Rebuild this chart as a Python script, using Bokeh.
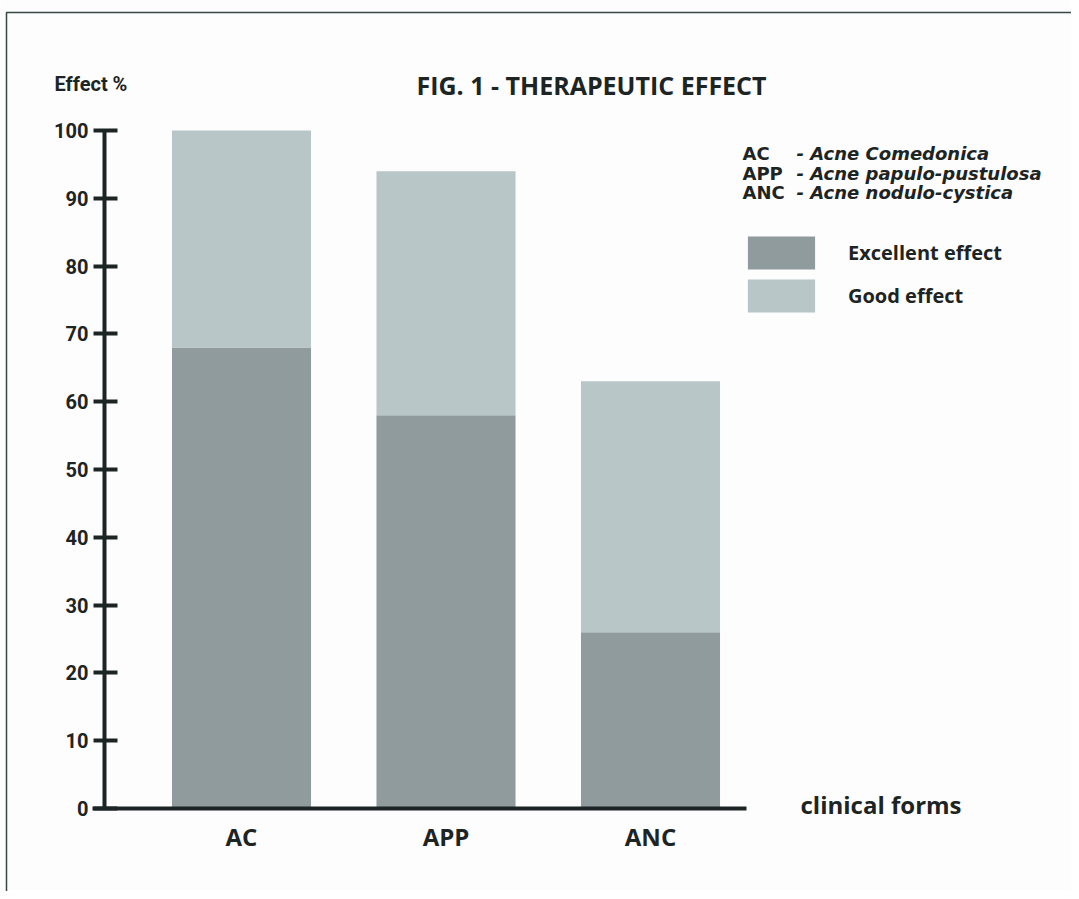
from bokeh.plotting import figure
from bokeh.models import Range1d, FixedTicker, Label, PolyAnnotation, ColumnDataSource
from bokeh.embed import file_html
from bokeh.resources import INLINE

# ---- data ----
categories = ["AC", "APP", "ANC"]
excellent = [68, 58, 26]
good = [32, 36, 37]
y_ticks = list(range(0, 101, 10))
series_names = ["Excellent effect", "Good effect"]
abbrev = ["AC", "APP", "ANC"]
full_names = ["Acne Comedonica", "Acne papulo-pustulosa", "Acne nodulo-cystica"]
title_text = "FIG. 1 - THERAPEUTIC EFFECT"
y_title = "Effect %"
x_title = "clinical forms"

# ---- layout geometry (canvas pixels); the frame covers the whole canvas ----
W, H = 1071, 891
PX_PER_CAT = 204.5
FIRST_CENTER = 241          # px of first category centre
Y0_PX, Y100_PX = 808, 130   # px of value 0 and value 100
PX_PER_Y = (Y0_PX - Y100_PX) / 100.0
x_start = -FIRST_CENTER / PX_PER_CAT
x_end = x_start + W / PX_PER_CAT
y_start = -(H - Y0_PX) / PX_PER_Y
y_end = Y0_PX / PX_PER_Y


def dx(fx):
    return x_start + fx / PX_PER_CAT


def dy(fy):
    return (Y0_PX - fy) / PX_PER_Y


INK = "#1d2424"
DARK = "#8f9b9c"
LIGHT = "#b9c6c7"
BOLD = "Open Sans"
WIDE = "DejaVu Sans"
NARROW = "Roboto"

p = figure(width=W, height=H, x_range=Range1d(x_start, x_end), y_range=Range1d(y_start, y_end),
           output_backend="svg", toolbar_location=None,
           min_border_left=0, min_border_right=0, min_border_top=0, min_border_bottom=0)
p.background_fill_color = "#fdfdfd"
p.border_fill_color = "#fdfdfd"
p.outline_line_color = None
p.grid.visible = False

src = ColumnDataSource(dict(x=list(range(len(categories))), excellent=excellent, good=good))
p.vbar_stack(["excellent", "good"], x="x", width=0.68, color=[DARK, LIGHT], line_color=None,
             source=src, legend_label=series_names)

# y axis
ya = p.yaxis[0]
ya.fixed_location = dx(104)
ya.bounds = (0, 100)
ya.ticker = FixedTicker(ticks=y_ticks)
ya.axis_line_width = 4
ya.axis_line_color = INK
ya.major_tick_line_width = 4
ya.major_tick_line_color = INK
ya.major_tick_in = 13
ya.major_tick_out = 11
ya.minor_tick_line_color = None
ya.major_label_standoff = 5
ya.major_label_text_font = NARROW
ya.major_label_text_font_style = "bold"
ya.major_label_text_font_size = "20px"
ya.major_label_text_color = INK
ya.major_label_text_baseline = "alphabetic"

# x axis
xa = p.xaxis[0]
xa.fixed_location = 0
xa.bounds = (dx(92), dx(746))
xa.ticker = FixedTicker(ticks=list(range(len(categories))))
xa.major_label_overrides = {i: c for i, c in enumerate(categories)}
xa.axis_line_width = 4
xa.axis_line_color = INK
xa.major_tick_line_color = None
xa.minor_tick_line_color = None
xa.major_tick_out = 0
xa.major_tick_in = 0
xa.major_label_standoff = 11
xa.major_label_text_font = BOLD
xa.major_label_text_font_style = "bold"
xa.major_label_text_font_size = "24px"
xa.major_label_text_color = INK

# texts
p.add_layout(Label(x=dx(591), y=dy(84), text=title_text, text_align="center", text_baseline="middle",
                   text_font=BOLD, text_font_style="bold", text_font_size="25px", text_color=INK))
p.add_layout(Label(x=dx(54), y=dy(83), text=y_title, text_align="left", text_baseline="middle",
                   text_font=NARROW, text_font_style="bold", text_font_size="20px", text_color=INK))
p.add_layout(Label(x=dx(800), y=dy(804), text=x_title, text_align="left", text_baseline="middle",
                   text_font=BOLD, text_font_style="bold", text_font_size="24px", text_color=INK))

line_y = [153, 172.5, 192]
for a, n, ly in zip(abbrev, full_names, line_y):
    p.add_layout(Label(x=dx(742), y=dy(ly), text=a, text_align="left", text_baseline="middle",
                       text_font=WIDE, text_font_style="bold", text_font_size="18px", text_color=INK))
    p.add_layout(Label(x=dx(796), y=dy(ly), text="- " + n, text_align="left", text_baseline="middle",
                       text_font=WIDE, text_font_style="bold italic", text_font_size="18px", text_color=INK))

# legend (bar legend glyphs are drawn inset by 10% of the glyph box)
GW, GH = 84, 41
lg = p.legend[0]
lg.orientation = "vertical"
lg.glyph_width = GW
lg.glyph_height = GH
lg.spacing = 2
lg.label_standoff = 25
lg.padding = 0
lg.margin = 0
lg.location = (739, H - 316)
lg.background_fill_alpha = 0
lg.border_line_color = None
lg.label_text_font = BOLD
lg.label_text_font_style = "bold"
lg.label_text_font_size = "20px"
lg.label_text_color = INK

# page frame lines (top and left)
p.add_layout(PolyAnnotation(xs=[dx(6), dx(6), dx(1300), dx(1300)], ys=[dy(1100), dy(12), dy(12), dy(1100)],
                            fill_alpha=0, line_alpha=1.0, line_color="#3a4644", line_width=1.5))

open("out.html", "w").write(file_html(p, INLINE))
